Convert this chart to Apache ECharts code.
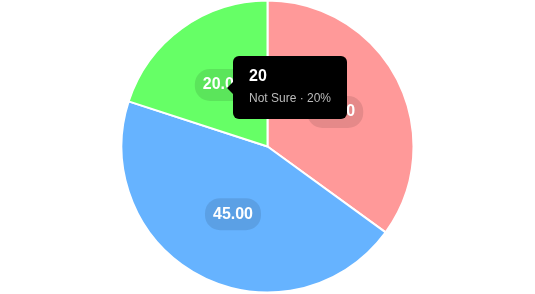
<!DOCTYPE html>
<html>
<head>
<meta charset="utf-8">
<script src="https://cdn.jsdelivr.net/npm/echarts@6/dist/echarts.min.js"></script>
<style>
html,body{margin:0;padding:0;background:#fff;}
#main{width:535px;height:294px;}
</style>
</head>
<body>
<div id="main"></div>
<script>
var categories = ['Yes', 'No', 'Not Sure'];
var values = [35, 45, 20];
var colors = ['#ff9999', '#66b3ff', '#66ff66'];

var total = values.reduce(function(a, b){ return a + b; }, 0);
var chart = echarts.init(document.getElementById('main'), null, {renderer: 'canvas'});
var data = categories.map(function(c, i){
  return {name: c, value: values[i], itemStyle: {color: colors[i]}};
});
chart.setOption({
  animation: false,
  tooltip: {
    trigger: 'item',
    alwaysShowContent: true,
    backgroundColor: '#000',
    borderWidth: 0,
    padding: 0,
    extraCssText: 'border-radius:6px;box-shadow:none;overflow:visible;',
    position: function(){ return [233, 56]; },
    formatter: function(p){
      var pct = Math.round(p.value / total * 100);
      return '<div style="position:relative;width:114px;height:63px;box-sizing:border-box;padding:11px 0 0 16px;font-family:\'Liberation Sans\',Arial,sans-serif;">' +
        '<div style="position:absolute;left:-6px;top:26px;width:0;height:0;border-top:6px solid transparent;border-bottom:6px solid transparent;border-right:6px solid #000;"></div>' +
        '<div style="color:#fff;font-weight:bold;font-size:16px;line-height:18px;">' + p.value + '</div>' +
        '<div style="color:#bbb;font-size:12px;line-height:14px;margin-top:6px;white-space:nowrap;">' + p.name + ' \u00b7 ' + pct + '%</div>' +
        '</div>';
    }
  },
  series: [{
    type: 'pie',
    center: ['50%', 146.5],
    radius: [0, 146],
    startAngle: 90,
    clockwise: true,
    data: data,
    itemStyle: {borderColor: '#fff', borderWidth: 2},
    emphasis: {disabled: true},
    label: {
      show: true,
      position: 'inside',
      formatter: function(p){ return p.value.toFixed(2); },
      color: '#fff',
      fontWeight: 'bold',
      fontSize: 16,
      fontFamily: 'Liberation Sans, Arial, sans-serif',
      backgroundColor: 'rgba(0,0,0,0.1)',
      padding: [8, 8],
      borderRadius: 15
    },
    labelLine: {show: false}
  }]
});
chart.dispatchAction({type: 'showTip', seriesIndex: 0, dataIndex: 2});
</script>
</body>
</html>
